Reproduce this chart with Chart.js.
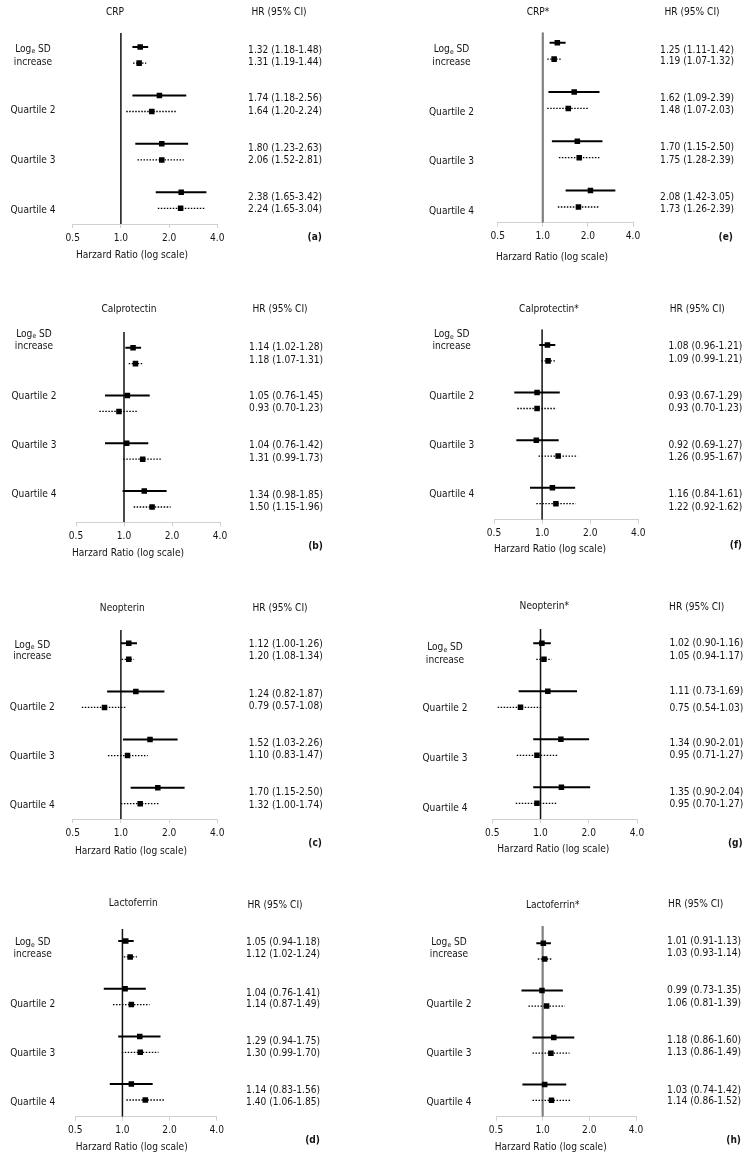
<!DOCTYPE html>
<html><head><meta charset="utf-8">
<script src="https://cdn.jsdelivr.net/npm/chart.js@4.4.0/dist/chart.umd.min.js"></script>
<style>
html,body{margin:0;padding:0;background:#fff;width:749px;height:1158px;overflow:hidden;position:relative}
canvas{position:absolute}
</style></head><body>
<script>
// ---------- DATA ----------
const panelTitles = ['CRP','Calprotectin','Neopterin','Lactoferrin','CRP*','Calprotectin*','Neopterin*','Lactoferrin*'];
const panelLetters = ['(a)','(b)','(c)','(d)','(e)','(f)','(g)','(h)'];
const rowLabels = ['Quartile 2','Quartile 3','Quartile 4'];
const xTicks = [0.5, 1, 2, 4];

// plotted marks [HR, lower, upper]; solid = model 1, dotted = model 2
const crpSolid     = [[1.32,1.18,1.48],[1.74,1.18,2.56],[1.80,1.23,2.63],[2.38,1.65,3.42]];
const crpDotted    = [[1.30,1.19,1.44],[1.56,1.08,2.22],[1.80,1.27,2.47],[2.36,1.70,3.33]];
const calSolid     = [[1.14,1.02,1.28],[1.05,0.76,1.45],[1.04,0.76,1.42],[1.34,0.98,1.85]];
const calDotted    = [[1.18,1.07,1.31],[0.93,0.70,1.23],[1.31,0.99,1.73],[1.50,1.15,1.96]];
const neoSolid     = [[1.12,1.00,1.26],[1.24,0.82,1.87],[1.52,1.03,2.26],[1.70,1.15,2.50]];
const neoDotted    = [[1.12,1.01,1.21],[0.79,0.57,1.08],[1.10,0.83,1.47],[1.32,1.00,1.74]];
const lacSolid     = [[1.05,0.94,1.18],[1.04,0.76,1.41],[1.29,0.94,1.75],[1.14,0.83,1.56]];
const lacDotted    = [[1.12,1.02,1.24],[1.14,0.87,1.49],[1.30,0.99,1.70],[1.40,1.06,1.85]];
const crpAdjSolid  = [[1.25,1.11,1.42],[1.62,1.09,2.39],[1.70,1.15,2.50],[2.08,1.42,3.05]];
const crpAdjDotted = [[1.19,1.07,1.32],[1.48,1.07,2.03],[1.75,1.28,2.39],[1.73,1.26,2.39]];
const calAdjSolid  = [[1.08,0.96,1.21],[0.93,0.67,1.29],[0.92,0.69,1.27],[1.16,0.84,1.61]];
const calAdjDotted = [[1.09,0.99,1.21],[0.93,0.70,1.23],[1.26,0.95,1.67],[1.22,0.92,1.62]];
const neoAdjSolid  = [[1.02,0.90,1.16],[1.11,0.73,1.69],[1.34,0.90,2.01],[1.35,0.90,2.04]];
const neoAdjDotted = [[1.05,0.94,1.17],[0.75,0.54,1.03],[0.95,0.71,1.27],[0.95,0.70,1.27]];
const lacAdjSolid  = [[1.01,0.91,1.13],[0.99,0.73,1.35],[1.18,0.86,1.60],[1.03,0.74,1.42]];
const lacAdjDotted = [[1.03,0.93,1.14],[1.06,0.81,1.39],[1.13,0.86,1.49],[1.14,0.86,1.52]];

// printed HR (95% CI) column
const crpHR    = ['1.32 (1.18-1.48)','1.31 (1.19-1.44)','1.74 (1.18-2.56)','1.64 (1.20-2.24)','1.80 (1.23-2.63)','2.06 (1.52-2.81)','2.38 (1.65-3.42)','2.24 (1.65-3.04)'];
const calHR    = ['1.14 (1.02-1.28)','1.18 (1.07-1.31)','1.05 (0.76-1.45)','0.93 (0.70-1.23)','1.04 (0.76-1.42)','1.31 (0.99-1.73)','1.34 (0.98-1.85)','1.50 (1.15-1.96)'];
const neoHR    = ['1.12 (1.00-1.26)','1.20 (1.08-1.34)','1.24 (0.82-1.87)','0.79 (0.57-1.08)','1.52 (1.03-2.26)','1.10 (0.83-1.47)','1.70 (1.15-2.50)','1.32 (1.00-1.74)'];
const lacHR    = ['1.05 (0.94-1.18)','1.12 (1.02-1.24)','1.04 (0.76-1.41)','1.14 (0.87-1.49)','1.29 (0.94-1.75)','1.30 (0.99-1.70)','1.14 (0.83-1.56)','1.40 (1.06-1.85)'];
const crpAdjHR = ['1.25 (1.11-1.42)','1.19 (1.07-1.32)','1.62 (1.09-2.39)','1.48 (1.07-2.03)','1.70 (1.15-2.50)','1.75 (1.28-2.39)','2.08 (1.42-3.05)','1.73 (1.26-2.39)'];
const calAdjHR = ['1.08 (0.96-1.21)','1.09 (0.99-1.21)','0.93 (0.67-1.29)','0.93 (0.70-1.23)','0.92 (0.69-1.27)','1.26 (0.95-1.67)','1.16 (0.84-1.61)','1.22 (0.92-1.62)'];
const neoAdjHR = ['1.02 (0.90-1.16)','1.05 (0.94-1.17)','1.11 (0.73-1.69)','0.75 (0.54-1.03)','1.34 (0.90-2.01)','0.95 (0.71-1.27)','1.35 (0.90-2.04)','0.95 (0.70-1.27)'];
const lacAdjHR = ['1.01 (0.91-1.13)','1.03 (0.93-1.14)','0.99 (0.73-1.35)','1.06 (0.81-1.39)','1.18 (0.86-1.60)','1.13 (0.86-1.49)','1.03 (0.74-1.42)','1.14 (0.86-1.52)'];

const solids  = [crpSolid, calSolid, neoSolid, lacSolid, crpAdjSolid, calAdjSolid, neoAdjSolid, lacAdjSolid];
const dotteds = [crpDotted, calDotted, neoDotted, lacDotted, crpAdjDotted, calAdjDotted, neoAdjDotted, lacAdjDotted];
const hrTexts = [crpHR, calHR, neoHR, lacHR, crpAdjHR, calAdjHR, neoAdjHR, lacAdjHR];

// ---------- LAYOUT (page pixels) ----------
const layouts = [
 {x0:0,y0:0,w:375,h:290,x05:72.7,x4:217.3,vTop:33,axisY:224,row0:47,rowEnd:208.3,title:[115,12],hrHead:[279,12],hrRight:322,hrY:[50,62.3,98.7,111,148,160.3,197,209.7],lblX:33,lblY:[49,62,110,160.7,210],axTitle:[132,255],letter:[322,237],ref:'#111',refW:1.5},
 {x0:0,y0:290,w:375,h:290,x05:76,x4:220,vTop:332,axisY:522.3,row0:347.7,rowEnd:507,title:[129,309],hrHead:[280,309],hrRight:323,hrY:[347.7,360,396.7,408.3,445.7,458,495,507.7],lblX:34,lblY:[334,346,396,445,494],axTitle:[128,553],letter:[323,546.7],ref:'#111',refW:1.5},
 {x0:0,y0:580,w:375,h:290,x05:72.7,x4:217.3,vTop:630,axisY:819,row0:643.3,rowEnd:803.7,title:[122.3,608.3],hrHead:[280,608],hrRight:322.7,hrY:[644,656.7,694,706.7,743.3,755.7,792.3,805],lblX:32.3,lblY:[645,656.7,707.3,756,805.7],axTitle:[131,851.7],letter:[322,843.3],ref:'#111',refW:1.5},
 {x0:0,y0:870,w:375,h:288,x05:75.3,x4:216.7,vTop:928.7,axisY:1116.7,row0:941,rowEnd:1100,title:[133.3,903.3],hrHead:[275,905],hrRight:320,hrY:[942.3,954.3,993.3,1004.3,1041.7,1053.3,1090,1102.7],lblX:32.7,lblY:[942.3,954,1004,1053.3,1102.3],axTitle:[131.7,1147.3],letter:[320,1140.7],ref:'#111',refW:1.5},
 {x0:375,y0:0,w:374,h:290,x05:497.7,x4:633,vTop:32.3,axisY:222.7,row0:42.7,rowEnd:207,title:[538,12],hrHead:[692,12],hrRight:734,hrY:[50,61.7,98.3,110.7,147.7,160,197.3,209.3],lblX:451.5,lblY:[49.7,62,112,161.7,211.7],axTitle:[552,257],letter:[733,237],ref:'#808080',refW:2.2},
 {x0:375,y0:290,w:374,h:290,x05:494,x4:638.3,vTop:329.3,axisY:519.7,row0:345,rowEnd:503.7,title:[549,309.3],hrHead:[697.3,309.3],hrRight:742.3,hrY:[346.7,359.3,396,408.7,445,457.7,494.3,507.3],lblX:451.7,lblY:[334.3,346,396,445.3,494],axTitle:[550,549.3],letter:[742,545],ref:'#111',refW:1.5},
 {x0:375,y0:580,w:374,h:290,x05:492.3,x4:637,vTop:629,axisY:819.3,row0:643.3,rowEnd:803.3,title:[544.3,606.7],hrHead:[696.7,607.3],hrRight:743.3,hrY:[643.3,656,691.7,708.3,743.3,755,792.3,804.3],lblX:445,lblY:[647.3,660,708.7,758.7,808.3],axTitle:[553.3,849.3],letter:[742.7,843.3],ref:'#111',refW:1.5},
 {x0:375,y0:870,w:374,h:288,x05:496,x4:636,vTop:926,axisY:1116.7,row0:943.3,rowEnd:1100.3,title:[552.7,905],hrHead:[695.7,904.3],hrRight:741,hrY:[941,953.3,990,1003.3,1040.7,1052.7,1090,1101.7],lblX:449,lblY:[942.7,954,1004.3,1053.3,1102.3],axTitle:[550.7,1147.3],letter:[741,1140],ref:'#808080',refW:2.2}
];

const FONT = '"DejaVu Sans Condensed", "DejaVu Sans", sans-serif';
const FS = 10.1;
const TXT = '#141414';
const AX_H = 30;

function makePanel(i) {
  const L = layouts[i];
  const c = document.createElement('canvas');
  c.width = L.w; c.height = L.h;
  c.style.left = L.x0 + 'px'; c.style.top = L.y0 + 'px';
  c.style.width = L.w + 'px'; c.style.height = L.h + 'px';
  document.body.appendChild(c);
  const step = (L.rowEnd - L.row0) / 10;
  const yMin = (L.vTop - L.row0) / step;
  const yMax = (L.axisY - L.row0) / step;

  const datasets = [];
  datasets.push({data:[{x:1,y:yMin},{x:1,y:yMax}], showLine:true, borderColor:L.ref, borderWidth:L.refW, pointRadius:0, order:3});
  [solids[i], dotteds[i]].forEach((s, m) => {
    s.forEach((t, r) => {
      const y = r * 3 + m;
      datasets.push({data:[{x:t[1],y:y},{x:t[2],y:y}], showLine:true, borderColor:'#000',
        borderWidth: m ? 1.3 : 2, borderDash: m ? [1.5,1.5] : [], pointRadius:0, order:2});
    });
    datasets.push({data: s.map((t, r) => ({x:t[0], y:r * 3 + m})), pointStyle:'rect', pointRadius:3.9,
      backgroundColor:'#000', borderColor:'#000', borderWidth:0, order:1});
  });

  const textPlugin = {
    id:'txt' + i,
    afterDraw(chart) {
      const ctx = chart.ctx;
      const ox = L.x0, oy = L.y0;
      ctx.save();
      ctx.fillStyle = TXT;
      ctx.textBaseline = 'middle';
      const font = (b, s) => (b ? 'bold ' : '') + (s || FS) + 'px ' + FONT;
      const put = (s, x, y, align, bold) => { ctx.font = font(bold); ctx.textAlign = align; ctx.fillText(s, x - ox, y - oy); };
      put(panelTitles[i], L.title[0], L.title[1], 'center');
      put('HR (95% CI)', L.hrHead[0], L.hrHead[1], 'center');
      hrTexts[i].forEach((s, k) => put(s, L.hrRight, L.hrY[k], 'right'));
      // Log_e SD
      ctx.font = font(false); const w1 = ctx.measureText('Log').width, w3 = ctx.measureText(' SD').width;
      ctx.font = font(false, FS * 0.68); const w2 = ctx.measureText('e').width;
      let sx = L.lblX - (w1 + w2 + w3) / 2;
      ctx.textAlign = 'left';
      ctx.font = font(false); ctx.fillText('Log', sx - ox, L.lblY[0] - oy);
      ctx.font = font(false, FS * 0.68); ctx.fillText('e', sx + w1 - ox, L.lblY[0] + 2.7 - oy);
      ctx.font = font(false); ctx.fillText(' SD', sx + w1 + w2 - ox, L.lblY[0] - oy);
      put('increase', L.lblX, L.lblY[1], 'center');
      rowLabels.forEach((s, k) => put(s, L.lblX, L.lblY[k + 2], 'center'));
      put('Harzard Ratio (log scale)', L.axTitle[0], L.axTitle[1], 'center');
      put(panelLetters[i], L.letter[0], L.letter[1], 'right', true);
      ctx.restore();
    }
  };

  new Chart(c, {
    type:'scatter',
    data:{datasets},
    options:{
      responsive:false, animation:false, devicePixelRatio:1,
      layout:{padding:{left:L.x05 - L.x0, right:L.w - (L.x4 - L.x0), top:L.vTop - L.y0, bottom:L.h - (L.axisY - L.y0) - AX_H}},
      plugins:{legend:{display:false}, tooltip:{enabled:false}},
      scales:{
        x:{type:'logarithmic', min:0.5, max:4,
           afterBuildTicks:(s) => { s.ticks = xTicks.map(v => ({value:v})); },
           afterFit:(s) => { s.height = AX_H; },
           ticks:{callback:(v) => Number(v).toFixed(1), font:{family:FONT, size:FS}, color:TXT, padding:4, maxRotation:0, autoSkip:false},
           grid:{drawOnChartArea:false, drawTicks:true, tickLength:4, color:'#d0d0d0'},
           border:{display:true, color:'#d0d0d0', width:1}},
        y:{type:'linear', reverse:true, min:yMin, max:yMax, display:false}
      }
    },
    plugins:[textPlugin]
  });
}
for (let i = 0; i < 8; i++) makePanel(i);
</script>
</body></html>
